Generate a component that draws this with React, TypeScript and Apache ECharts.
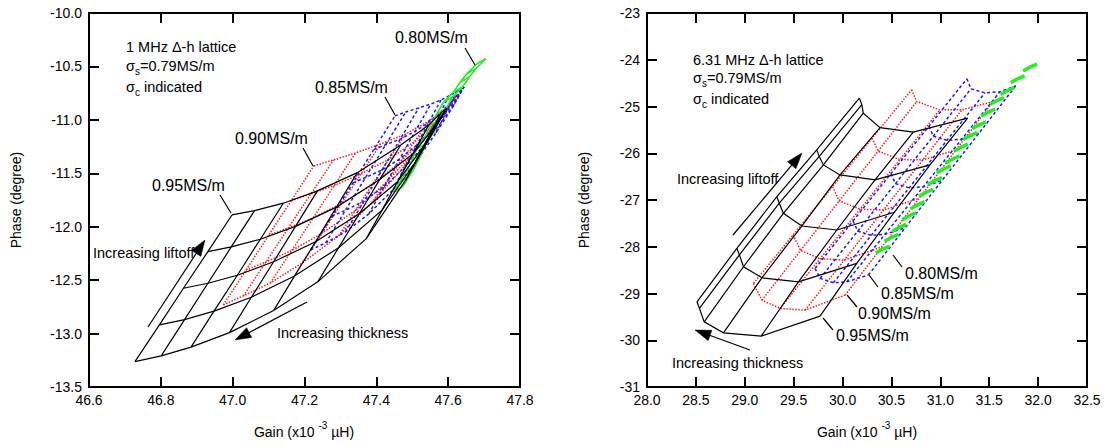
import React, { useEffect, useRef } from "react";
import * as echarts from "echarts";

type Pt = [number, number];
const FONT = "'Liberation Sans', Arial, Helvetica, sans-serif";

// ---------------- Axis ticks ----------------
const leftGainTicks = [46.6, 46.8, 47.0, 47.2, 47.4, 47.6, 47.8];
const leftPhaseTicks = [-13.5, -13.0, -12.5, -12.0, -11.5, -11.0, -10.5, -10.0];
const rightGainTicks = [28.0, 28.5, 29.0, 29.5, 30.0, 30.5, 31.0, 31.5, 32.0, 32.5];
const rightPhaseTicks = [-31, -30, -29, -28, -27, -26, -25, -24, -23];

// ---------------- Left panel: 1 MHz lattice (rows = constant liftoff, thick -> thin) ----------------
const left095: Pt[][] = [
  [[46.728, -13.262], [46.801, -13.209], [46.884, -13.127], [46.991, -12.991], [47.114, -12.785], [47.237, -12.516], [47.372, -12.111], [47.482, -11.562], [47.596, -10.891]],
  [[46.796, -12.919], [46.866, -12.869], [46.948, -12.79], [47.052, -12.66], [47.172, -12.462], [47.295, -12.196], [47.416, -11.845], [47.507, -11.405], [47.596, -10.891]],
  [[46.863, -12.576], [46.931, -12.529], [47.013, -12.454], [47.114, -12.328], [47.231, -12.14], [47.353, -11.876], [47.459, -11.58], [47.531, -11.249], [47.596, -10.891]],
  [[46.931, -12.233], [46.996, -12.189], [47.077, -12.117], [47.175, -11.997], [47.289, -11.817], [47.41, -11.555], [47.503, -11.314], [47.556, -11.092], [47.596, -10.891]],
  [[46.998, -11.89], [47.061, -11.849], [47.141, -11.78], [47.236, -11.665], [47.347, -11.494], [47.468, -11.235], [47.546, -11.048], [47.58, -10.935], [47.596, -10.891]],
];
const left090: Pt[][] = [
  [[46.974, -12.732], [47.03, -12.647], [47.105, -12.526], [47.194, -12.339], [47.295, -12.086], [47.387, -11.777], [47.474, -11.45], [47.552, -11.094], [47.624, -10.767]],
  [[47.037, -12.407], [47.093, -12.329], [47.165, -12.222], [47.249, -12.061], [47.342, -11.847], [47.427, -11.586], [47.502, -11.314], [47.567, -11.029], [47.624, -10.767]],
  [[47.1, -12.081], [47.155, -12.011], [47.224, -11.918], [47.303, -11.782], [47.388, -11.609], [47.467, -11.394], [47.531, -11.179], [47.582, -10.963], [47.624, -10.767]],
  [[47.163, -11.757], [47.218, -11.693], [47.283, -11.614], [47.358, -11.504], [47.435, -11.37], [47.507, -11.202], [47.56, -11.043], [47.598, -10.898], [47.624, -10.767]],
  [[47.226, -11.431], [47.281, -11.375], [47.342, -11.31], [47.412, -11.225], [47.482, -11.132], [47.546, -11.01], [47.588, -10.907], [47.613, -10.833], [47.624, -10.767]],
];
const left085: Pt[][] = [
  [[47.217, -12.217], [47.259, -12.151], [47.314, -12.049], [47.379, -11.88], [47.446, -11.656], [47.51, -11.394], [47.566, -11.122], [47.613, -10.879], [47.644, -10.692]],
  [[47.276, -11.904], [47.314, -11.846], [47.366, -11.759], [47.422, -11.623], [47.479, -11.445], [47.533, -11.239], [47.58, -11.027], [47.619, -10.837], [47.644, -10.692]],
  [[47.335, -11.59], [47.37, -11.539], [47.416, -11.469], [47.465, -11.366], [47.513, -11.235], [47.556, -11.085], [47.594, -10.931], [47.624, -10.795], [47.644, -10.692]],
  [[47.393, -11.277], [47.426, -11.233], [47.467, -11.179], [47.508, -11.108], [47.546, -11.024], [47.579, -10.931], [47.608, -10.835], [47.63, -10.753], [47.644, -10.692]],
  [[47.452, -10.963], [47.482, -10.926], [47.518, -10.889], [47.552, -10.851], [47.58, -10.814], [47.602, -10.776], [47.622, -10.739], [47.635, -10.711], [47.644, -10.692]],
];
const left080: Pt[][] = [
  [[47.448, -11.675], [47.473, -11.628]],
  [[47.466, -11.581], [47.491, -11.534]],
  [[47.485, -11.472], [47.51, -11.425]],
  [[47.499, -11.378], [47.524, -11.331]],
  [[47.513, -11.27], [47.538, -11.223]],
  [[47.536, -11.16], [47.561, -11.113]],
  [[47.55, -11.051], [47.575, -11.004]],
  [[47.569, -10.942], [47.594, -10.895]],
  [[47.587, -10.833], [47.612, -10.786]],
  [[47.615, -10.739], [47.64, -10.692]],
  [[47.634, -10.646], [47.659, -10.599]],
  [[47.652, -10.568], [47.677, -10.521]],
  [[47.68, -10.475], [47.705, -10.428]],
];

// ---------------- Right panel: 6.31 MHz lattice ----------------
const right095: Pt[][] = [
  [[28.511, -29.178], [28.536, -29.317], [28.585, -29.607], [28.782, -29.842], [29.168, -29.913], [29.77, -29.485]],
  [[28.919, -28.034], [28.945, -28.173], [28.987, -28.428], [29.175, -28.664], [29.549, -28.75], [30.145, -28.356]],
  [[29.328, -26.929], [29.353, -27.068], [29.395, -27.285], [29.583, -27.557], [29.941, -27.642], [30.529, -27.263]],
  [[29.736, -25.928], [29.762, -26.068], [29.804, -26.25], [29.974, -26.464], [30.332, -26.571], [30.894, -26.25]],
  [[30.172, -24.821], [30.197, -24.96], [30.212, -25.142], [30.383, -25.451], [30.723, -25.549], [31.279, -25.249]],
];
const right090: Pt[][] = [
  [[29.089, -28.784], [29.175, -29.142], [29.362, -29.32], [29.617, -29.356], [30.026, -29.035]],
  [[29.493, -27.749], [29.571, -28.079], [29.77, -28.257], [30.018, -28.285], [30.404, -28.0]],
  [[29.898, -26.715], [29.966, -27.019], [30.179, -27.197], [30.419, -27.214], [30.783, -26.965]],
  [[30.302, -25.678], [30.363, -25.956], [30.587, -26.134], [30.82, -26.143], [31.161, -25.928]],
  [[30.707, -24.643], [30.758, -24.894], [30.996, -25.072], [31.221, -25.072], [31.54, -24.894]],
];
const right085: Pt[][] = [
  [[29.719, -28.463], [29.77, -28.677], [29.906, -28.771], [30.043, -28.75], [30.264, -28.606]],
  [[30.107, -27.449], [30.156, -27.664], [30.293, -27.756], [30.434, -27.734], [30.64, -27.595]],
  [[30.495, -26.436], [30.541, -26.65], [30.681, -26.74], [30.826, -26.719], [31.018, -26.582]],
  [[30.884, -25.421], [30.928, -25.635], [31.068, -25.723], [31.218, -25.701], [31.395, -25.571]],
  [[31.272, -24.407], [31.313, -24.622], [31.456, -24.707], [31.609, -24.686], [31.772, -24.557]],
];
const right080: Pt[][] = [
  [[30.339, -28.135], [30.41, -28.05], [30.482, -27.985]],
  [[30.431, -27.884], [30.502, -27.799], [30.574, -27.734]],
  [[30.509, -27.67], [30.58, -27.585], [30.652, -27.52]],
  [[30.611, -27.421], [30.682, -27.336], [30.754, -27.271]],
  [[30.697, -27.186], [30.768, -27.101], [30.84, -27.036]],
  [[30.782, -26.92], [30.853, -26.835], [30.925, -26.77]],
  [[30.874, -26.671], [30.945, -26.586], [31.017, -26.521]],
  [[30.963, -26.421], [31.034, -26.336], [31.106, -26.271]],
  [[31.055, -26.207], [31.126, -26.122], [31.198, -26.057]],
  [[31.139, -25.956], [31.21, -25.871], [31.282, -25.806]],
  [[31.234, -25.707], [31.305, -25.622], [31.377, -25.557]],
  [[31.326, -25.478], [31.397, -25.393], [31.469, -25.328]],
  [[31.418, -25.206], [31.489, -25.121], [31.561, -25.056]],
  [[31.507, -24.958], [31.578, -24.873], [31.65, -24.808]],
  [[31.616, -24.743], [31.687, -24.658], [31.759, -24.593]],
  [[31.719, -24.493], [31.79, -24.408], [31.862, -24.343]],
  [[31.847, -24.242], [31.918, -24.157], [31.99, -24.092]],
];

const BLACK = "#000000";
const RED = "#ff1a1a";
const BLUE = "#1a1aff";
const GREEN = "#22ee22";

function latticeSeries(rows: Pt[][], ax: number, color: string, width: number, type: any, withCols: boolean, z: number) {
  const base = {
    type: "lines",
    coordinateSystem: "cartesian2d",
    xAxisIndex: ax,
    yAxisIndex: ax,
    polyline: true,
    silent: true,
    z,
    effect: { show: false },
    lineStyle: { color, width, type, opacity: 1, curveness: 0 },
  };
  const out: any[] = [{ ...base, data: rows.map((r) => ({ coords: r })) }];
  if (withCols) {
    const cols = rows[0].map((_, j) => rows.map((r) => r[j]));
    out.push({ ...base, data: cols.map((c) => ({ coords: c })) });
  }
  return out;
}

function xAxis(grid: number, pos: string, ticks: number[], labels: boolean) {
  return {
    type: "value",
    gridIndex: grid,
    position: pos,
    min: ticks[0],
    max: ticks[ticks.length - 1],
    interval: ticks[1] - ticks[0],
    axisLine: { show: true, onZero: false, lineStyle: { color: BLACK, width: 2 } },
    axisTick: { show: true, inside: true, length: 10, lineStyle: { color: BLACK, width: 2 } },
    axisLabel: {
      show: labels,
      color: BLACK,
      fontSize: 14,
      fontFamily: FONT,
      margin: 6,
      showMinLabel: true,
      showMaxLabel: true,
      formatter: (v: number) => v.toFixed(1),
    },
    splitLine: { show: false },
  };
}

function yAxis(grid: number, pos: string, ticks: number[], labels: boolean, dec: number) {
  return {
    type: "value",
    gridIndex: grid,
    position: pos,
    min: ticks[0],
    max: ticks[ticks.length - 1],
    interval: ticks[1] - ticks[0],
    axisLine: { show: true, onZero: false, lineStyle: { color: BLACK, width: 2 } },
    axisTick: { show: true, inside: true, length: 10, lineStyle: { color: BLACK, width: 2 } },
    axisLabel: {
      show: labels,
      color: BLACK,
      fontSize: 14,
      fontFamily: FONT,
      margin: 7,
      showMinLabel: true,
      showMaxLabel: true,
      formatter: (v: number) => v.toFixed(dec),
    },
    splitLine: { show: false },
  };
}

function txt(x: number, y: number, text: string, size: number, extra: any = {}) {
  return {
    type: "text",
    x,
    y,
    z: 100,
    style: {
      text,
      fontSize: size,
      fontFamily: FONT,
      fill: BLACK,
      align: "left",
      verticalAlign: "middle",
      textAlign: "left",
      textVerticalAlign: "middle",
      ...extra,
    },
  };
}

function sigma(x: number, y: number, sub: string, rest: string) {
  return {
    type: "text",
    x,
    y,
    z: 100,
    style: {
      text: `{a|σ}{b|${sub}}{a|${rest}}`,
      fontFamily: FONT,
      fill: BLACK,
      align: "left",
      verticalAlign: "middle",
      textAlign: "left",
      textVerticalAlign: "middle",
      rich: {
        a: { fontSize: 14.5, fontFamily: FONT, lineHeight: 20, fill: BLACK, color: BLACK },
        b: { fontSize: 10, fontFamily: FONT, lineHeight: 10, verticalAlign: "bottom", fill: BLACK, color: BLACK },
      },
    },
  };
}

function gainTitle(cx: number, cy: number) {
  return {
    type: "text",
    x: cx,
    y: cy,
    z: 100,
    style: {
      text: "{a|Gain (x10 }{p|-3}{a| µH)}",
      fontFamily: FONT,
      fill: BLACK,
      align: "center",
      verticalAlign: "middle",
      textAlign: "center",
      textVerticalAlign: "middle",
      rich: {
        a: { fontSize: 14, fontFamily: FONT, lineHeight: 24, fill: BLACK, color: BLACK },
        p: { fontSize: 10, fontFamily: FONT, lineHeight: 10, verticalAlign: "top", fill: BLACK, color: BLACK },
      },
    },
  };
}

function phaseTitle(cx: number, cy: number) {
  return {
    type: "text",
    x: cx,
    y: cy,
    rotation: Math.PI / 2,
    z: 100,
    style: {
      text: "Phase (degree)",
      fontSize: 14,
      fontFamily: FONT,
      fill: BLACK,
      align: "center",
      verticalAlign: "middle",
      textAlign: "center",
      textVerticalAlign: "middle",
    },
  };
}

function seg(x1: number, y1: number, x2: number, y2: number, w = 1.2) {
  return { type: "line", z: 100, shape: { x1, y1, x2, y2 }, style: { stroke: BLACK, lineWidth: w } };
}

function arrow(x1: number, y1: number, x2: number, y2: number) {
  const dx = x2 - x1;
  const dy = y2 - y1;
  const len = Math.sqrt(dx * dx + dy * dy);
  const ux = dx / len;
  const uy = dy / len;
  const L = 16;
  const W = 5.5;
  const bx = x2 - ux * L;
  const by = y2 - uy * L;
  return [
    seg(x1, y1, bx + ux * 2, by + uy * 2, 1.2),
    {
      type: "polygon",
      z: 100,
      shape: { points: [[x2, y2], [bx - uy * W, by + ux * W], [bx + uy * W, by - ux * W]] },
      style: { fill: BLACK, stroke: BLACK, lineWidth: 0.5 },
    },
  ];
}

export default function App() {
  const ref = useRef<HTMLDivElement>(null);
  useEffect(() => {
    if (!ref.current) return;
    const chart = echarts.init(ref.current, null, { renderer: "svg" });

    const series: any[] = [
      ...latticeSeries(left090, 0, RED, 1.5, [1.5, 1.5], true, 2),
      ...latticeSeries(left085, 0, BLUE, 1.5, [3, 2.5], true, 3),
      ...latticeSeries(left080, 0, GREEN, 1.6, "solid", true, 4),
      ...latticeSeries(left095, 0, BLACK, 1.2, "solid", true, 5),
      ...latticeSeries(right090, 2, RED, 1.5, [1.5, 1.5], true, 2),
      ...latticeSeries(right085, 2, BLUE, 1.5, [3, 2.5], true, 3),
      ...latticeSeries(right080, 2, GREEN, 3.5, "solid", false, 4),
      ...latticeSeries(right095, 2, BLACK, 1.2, "solid", true, 5),
    ];

    const graphics: any[] = [
      // left panel texts
      txt(126, 47, "1 MHz Δ-h lattice", 14.5),
      sigma(126, 66, "s", "=0.79MS/m"),
      sigma(126, 87, "c", " indicated"),
      txt(395, 37, "0.80MS/m", 16),
      txt(315, 87, "0.85MS/m", 16),
      txt(235, 138, "0.90MS/m", 16),
      txt(152, 185, "0.95MS/m", 16),
      txt(93, 253, "Increasing liftoff", 14.5),
      txt(277, 333, "Increasing thickness", 14.5),
      seg(465, 48, 475, 65),
      seg(385, 97, 395, 115),
      seg(303, 148, 313, 166),
      seg(220, 195, 231, 213),
      ...arrow(148, 327, 205, 240),
      ...arrow(307, 302, 235, 340),
      // right panel texts
      txt(693, 60, "6.31 MHz Δ-h lattice", 14.5),
      sigma(693, 78, "s", "=0.79MS/m"),
      sigma(693, 99, "c", " indicated"),
      txt(677, 179, "Increasing liftoff", 14.5),
      txt(672, 363, "Increasing thickness", 14.5),
      txt(905, 273, "0.80MS/m", 16),
      txt(881, 293, "0.85MS/m", 16),
      txt(858, 313, "0.90MS/m", 16),
      txt(836, 335, "0.95MS/m", 16),
      seg(893, 255, 902, 267),
      seg(869, 275, 878, 287),
      seg(847, 295, 857, 307),
      seg(823, 318, 833, 330),
      ...arrow(733, 235, 802, 153),
      ...arrow(750, 350, 695, 330),
      // axis titles
      gainTitle(304, 432),
      gainTitle(867, 432),
      phaseTitle(16, 200),
      phaseTitle(584, 200),
    ];

    chart.setOption({
      animation: false,
      backgroundColor: "#ffffff",
      textStyle: { fontFamily: FONT },
      grid: [
        { left: 89, top: 13, width: 431, height: 374, containLabel: false },
        { left: 647, top: 13, width: 440, height: 374, containLabel: false },
      ],
      xAxis: [
        xAxis(0, "bottom", leftGainTicks, true),
        xAxis(0, "top", leftGainTicks, false),
        xAxis(1, "bottom", rightGainTicks, true),
        xAxis(1, "top", rightGainTicks, false),
      ],
      yAxis: [
        yAxis(0, "left", leftPhaseTicks, true, 1),
        yAxis(0, "right", leftPhaseTicks, false, 1),
        yAxis(1, "left", rightPhaseTicks, true, 0),
        yAxis(1, "right", rightPhaseTicks, false, 0),
      ],
      series,
      graphic: { elements: graphics },
    });
    return () => chart.dispose();
  }, []);

  return (
    <div
      ref={ref}
      style={{ position: "absolute", left: 0, top: 0, width: 1104, height: 447, background: "#fff" }}
    />
  );
}
